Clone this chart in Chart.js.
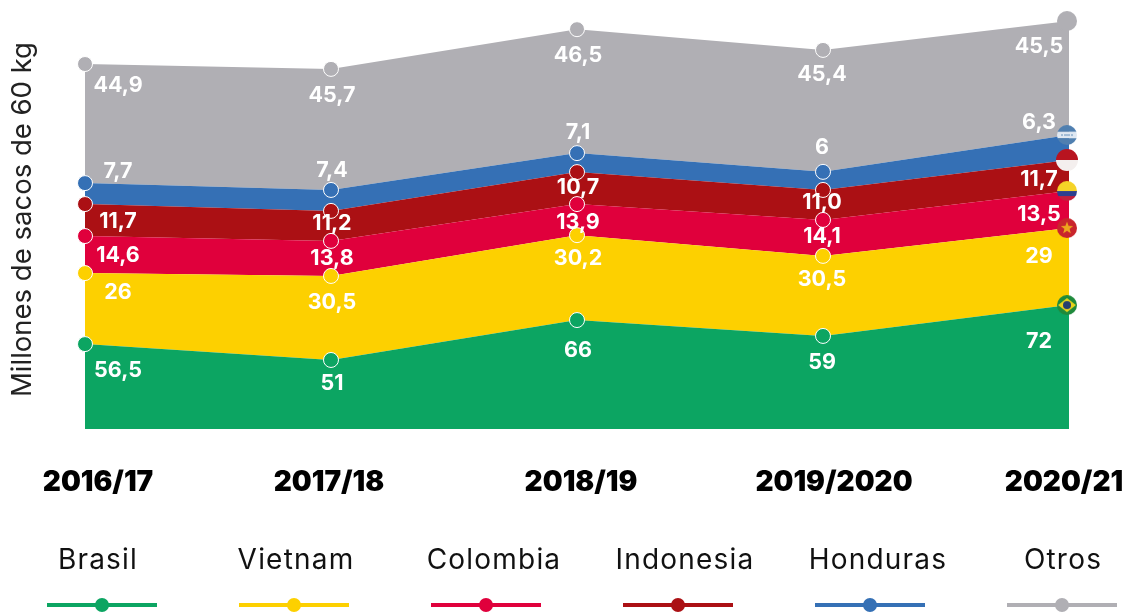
<!DOCTYPE html>
<html lang="es">
<head>
<meta charset="utf-8">
<title>Millones de sacos de 60 kg</title>
<script src="https://cdn.jsdelivr.net/npm/chart.js@4"></script>
<style>
    html, body { margin: 0; padding: 0; background: #fff; }
    canvas { display: block; }
</style>
</head>
<body>
<canvas id="chart" width="1125" height="614"></canvas>
<script>
// Datos
const categories = ['2016/17', '2017/18', '2018/19', '2019/2020', '2020/21'];
const seriesNames = ['Brasil', 'Vietnam', 'Colombia', 'Indonesia', 'Honduras', 'Otros'];

// Band heights as drawn in the picture. The original is not to scale with
// its printed numbers, so the printed numbers are kept apart below.
const brasil = [38.5, 31.3, 49.4, 42.2, 56.2];
const vietnam = [32.2, 38.1, 38.5, 36.3, 34.9];
const colombia = [16.8, 15.9, 14.1, 16.3, 16.8];
const indonesia = [14.5, 13.6, 14.5, 13.6, 14.1];
const honduras = [9.5, 9.5, 8.6, 8.2, 11.3];
const otros = [54.0, 54.9, 56.2, 55.3, 51.7];

// Printed labels
const brasilLabels = ['56,5', '51', '66', '59', '72'];
const vietnamLabels = ['26', '30,5', '30,2', '30,5', '29'];
const colombiaLabels = ['14,6', '13,8', '13,9', '14,1', '13,5'];
const indonesiaLabels = ['11,7', '11,2', '10,7', '11,0', '11,7'];
const hondurasLabels = ['7,7', '7,4', '7,1', '6', '6,3'];
const otrosLabels = ['44,9', '45,7', '46,5', '45,4', '45,5'];

// Estilos
const colors = ['#0ca562', '#fdd000', '#e0003c', '#ab1014', '#3570b5', '#b0afb4'];
const labelDx = [33, 1, 1, -1, -30];
const labelDy = [
    [26, 24, 30, 27, 36],
    [19, 27, 23, 24, 28],
    [19, 18, 18, 17, 23],
    [17, 13, 15, 13, 20],
    [-12, -19, -21, -24, -13],
    [22, 27, 26, 25, 26]
];
const tickDx = [13, -2, 4, 11, -5];
const legendCenters = [102, 294, 486, 678, 870, 1062];
const legendTextCenters = [98, 296, 494, 685, 878, 1063];

// ===== ФЛАГИ =====
// The canvas is wider than the disc, so the disc sits a little left of the data point
function makeFlag(radius, paint) {
    const c = document.createElement('canvas');
    c.width = radius * 2 + 4;
    c.height = radius * 2;
    const g = c.getContext('2d');
    g.beginPath();
    g.arc(radius, radius, radius, 0, Math.PI * 2);
    g.clip();
    paint(g, radius * 2);
    return c;
}

function stripes(g, s, list) {
    let y = 0;
    list.forEach(([color, part]) => {
        g.fillStyle = color;
        g.fillRect(0, y, s, s * part);
        y += s * part;
    });
}

function star(g, cx, cy, r, color) {
    g.fillStyle = color;
    g.beginPath();
    for (let i = 0; i < 10; i++) {
        const rr = i % 2 ? r * 0.42 : r;
        const a = -Math.PI / 2 + i * Math.PI / 5;
        g.lineTo(cx + rr * Math.cos(a), cy + rr * Math.sin(a));
    }
    g.closePath();
    g.fill();
}

const flags = [
    makeFlag(10, (g, s) => {
        g.fillStyle = '#1f8a3c';
        g.fillRect(0, 0, s, s);
        g.fillStyle = '#e8d31c';
        g.beginPath();
        g.moveTo(1, s / 2); g.lineTo(s / 2, 3); g.lineTo(s - 1, s / 2); g.lineTo(s / 2, s - 3);
        g.fill();
        g.fillStyle = '#25406f';
        g.beginPath();
        g.arc(s / 2, s / 2, 4, 0, Math.PI * 2);
        g.fill();
    }),
    makeFlag(10, (g, s) => {
        g.fillStyle = '#c9252c';
        g.fillRect(0, 0, s, s);
        star(g, s / 2, s / 2, 6.5, '#eda51e');
    }),
    makeFlag(10, (g, s) => stripes(g, s, [['#f5d327', 0.5], ['#2c3f8f', 0.25], ['#c11f3d', 0.25]])),
    makeFlag(11, (g, s) => stripes(g, s, [['#b81420', 0.5], ['#f4efee', 0.5]])),
    makeFlag(10, (g, s) => {
        stripes(g, s, [['#4f7fb0', 0.34], ['#dfe8f2', 0.32], ['#4f7fb0', 0.34]]);
        g.fillStyle = '#7fa3c7';
        [5, 8, 10, 12, 15].forEach(x => g.fillRect(x - 0.8, 9.2, 1.6, 1.6));
    }),
    makeFlag(10, (g, s) => {
        g.fillStyle = '#b0afb4';
        g.fillRect(0, 0, s, s);
    })
];

// ===== ПОДПИСИ, ОСЬ X, ЛЕГЕНДА =====
const annotations = {
    id: 'annotations',
    afterDatasetsDraw(chart) {
        const ctx = chart.ctx;
        const allLabels = [brasilLabels, vietnamLabels, colombiaLabels, indonesiaLabels, hondurasLabels, otrosLabels];
        ctx.save();
        ctx.textAlign = 'center';
        ctx.textBaseline = 'middle';

        // Значения на полосах
        ctx.fillStyle = '#fff';
        ctx.font = '700 21.5px Inter';
        allLabels.forEach((labels, s) => {
            const meta = chart.getDatasetMeta(s);
            labels.forEach((text, i) => {
                ctx.fillText(text, meta.data[i].x + labelDx[i], meta.data[i].y + labelDy[s][i]);
            });
        });

        // Подписи оси X
        const xScale = chart.scales.x;
        ctx.fillStyle = '#000';
        ctx.font = '900 28px Inter';
        categories.forEach((text, i) => {
            ctx.fillText(text, xScale.getPixelForValue(i) + tickDx[i], 483);
        });

        // Легенда
        ctx.font = '400 28px Inter';
        ctx.letterSpacing = '1.2px';
        chart.data.datasets.forEach((ds, i) => {
            const cx = legendCenters[i];
            ctx.fillStyle = '#111';
            ctx.fillText(ds.label, legendTextCenters[i], 561);
            ctx.fillStyle = ds.backgroundColor;
            ctx.fillRect(cx - 55, 603, 110, 4);
            ctx.beginPath();
            ctx.arc(cx, 605, 7, 0, Math.PI * 2);
            ctx.fill();
        });
        ctx.restore();
    }
};

function buildDataset(name, values, index) {
    const color = colors[index];
    const flag = flags[index];
    return {
        label: name,
        data: values,
        backgroundColor: color,
        borderWidth: 0,
        fill: index === 0 ? 'origin' : '-1',
        tension: 0,
        clip: false,
        pointRadius: 7.5,
        pointBackgroundColor: color,
        pointBorderColor: '#fff',
        pointBorderWidth: 1,
        pointStyle: values.map((v, i) => (i === values.length - 1 ? flag : 'circle'))
    };
}

const seriesValues = [brasil, vietnam, colombia, indonesia, honduras, otros];

new Chart(document.getElementById('chart'), {
    type: 'line',
    data: {
        labels: categories,
        datasets: seriesNames.map((name, i) => buildDataset(name, seriesValues[i], i))
    },
    options: {
        responsive: false,
        animation: false,
        layout: { padding: { top: 10, right: 56 } },
        plugins: {
            legend: { display: false },
            tooltip: { enabled: false }
        },
        scales: {
            x: {
                grid: { display: false },
                border: { display: false },
                ticks: { display: false },
                afterFit(scale) { scale.height = 185; }
            },
            y: {
                stacked: true,
                min: 0,
                max: 190,
                grid: { display: false },
                border: { display: false },
                ticks: { display: false },
                title: {
                    display: true,
                    text: 'Millones de sacos de 60 kg',
                    color: '#222',
                    font: { family: 'Inter', size: 27.5, weight: '400' },
                    padding: { top: 6, bottom: 0 }
                },
                afterFit(scale) { scale.width = 85; }
            }
        }
    },
    plugins: [annotations]
});
</script>
</body>
</html>
